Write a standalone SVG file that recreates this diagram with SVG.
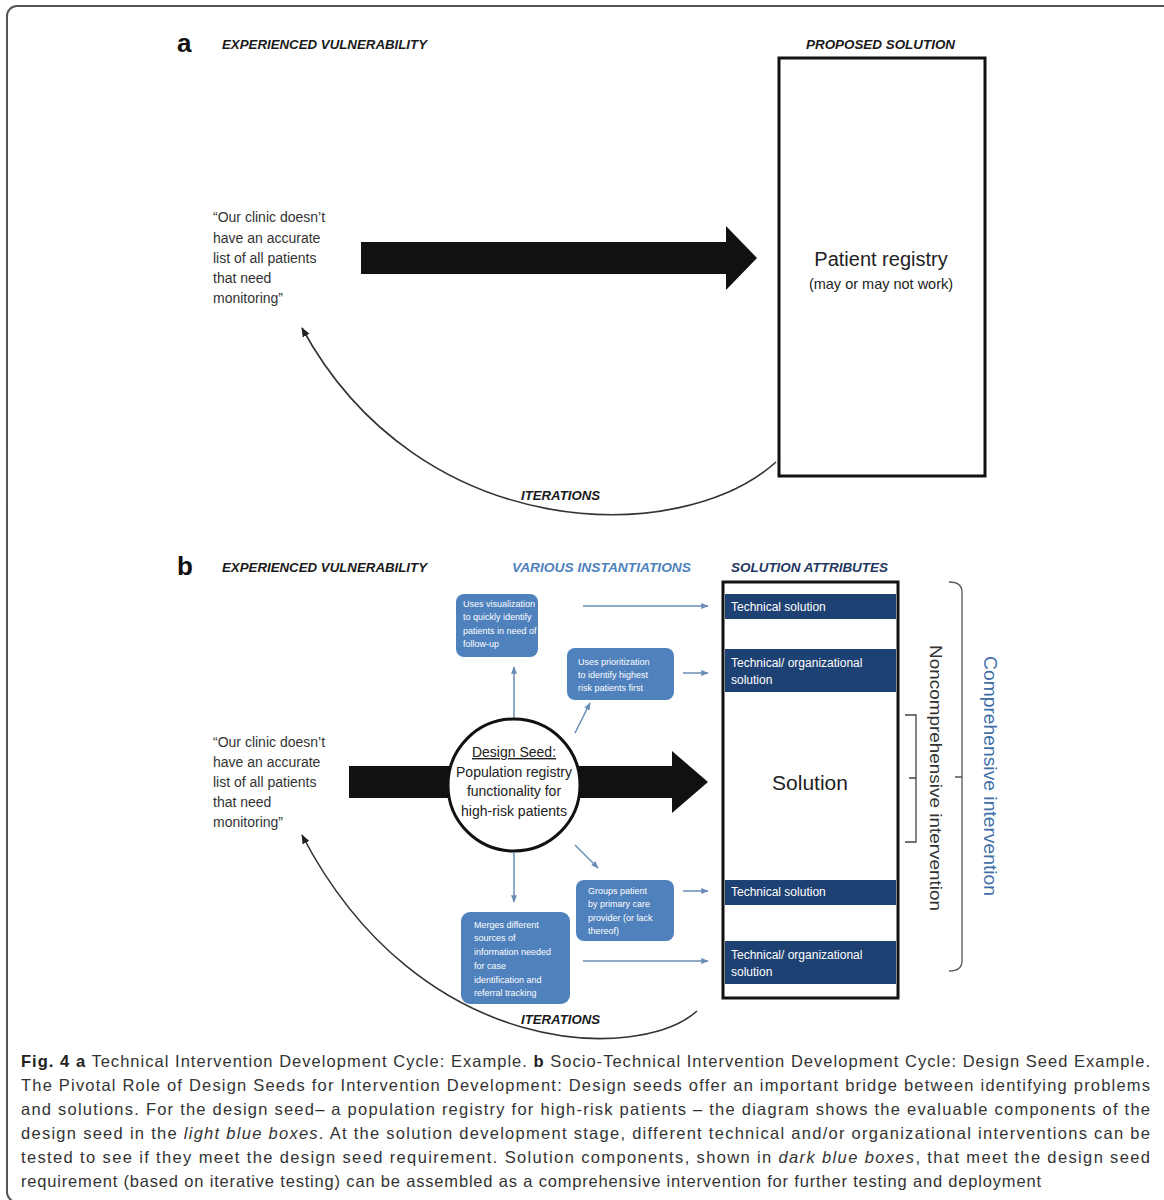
<svg xmlns="http://www.w3.org/2000/svg" width="1164" height="1200" viewBox="0 0 1164 1200">
<defs>
<style>
.hd{font-family:"Liberation Sans",Arial,sans-serif;font-weight:bold;font-style:italic;font-size:13px;fill:#1a1a1a}
.lbl{font-family:"Liberation Sans",Arial,sans-serif;font-size:14px;fill:#333}
.big{font-family:"Liberation Sans",Arial,sans-serif;font-weight:bold;font-size:26px;fill:#111}
.bar{fill:#1e4173}
.bt{font-family:"Liberation Sans",Arial,sans-serif;font-size:12px;fill:#fff}
.lb{fill:#4f81bd}
.st{font-family:"Liberation Sans",Arial,sans-serif;font-size:9px;fill:#fff}
.con{stroke:#6a8db5;stroke-width:1.5;fill:none}
.cap{font-family:"Liberation Sans",Arial,sans-serif;font-size:16.5px;fill:#333}
.cur{stroke:#333;stroke-width:1.6;fill:none}
</style>
<marker id="ah" viewBox="0 0 10 10" refX="9" refY="5" markerWidth="5" markerHeight="5" orient="auto">
<path d="M0,1 L10,5 L0,9 Z" fill="#6a8db5"/>
</marker>
<marker id="ahk" viewBox="0 0 10 10" refX="9" refY="5" markerWidth="6" markerHeight="6" orient="auto">
<path d="M0,1 L10,5 L0,9 Z" fill="#222"/>
</marker>
</defs>
<rect x="7" y="6" width="1175" height="1196" rx="10" fill="#fff" stroke="#555" stroke-width="2"/>

<!-- Panel a -->
<g id="panel-a-headers">
<text class="big" x="177" y="52">a</text>
<text class="hd" x="222" y="49" textLength="205" lengthAdjust="spacingAndGlyphs">EXPERIENCED VULNERABILITY</text>
<text class="hd" x="806" y="49" textLength="149" lengthAdjust="spacingAndGlyphs">PROPOSED SOLUTION</text>
</g>
<g id="quote-a">
<text class="lbl" x="213" y="222">“Our clinic doesn’t</text>
<text class="lbl" x="213" y="243">have an accurate</text>
<text class="lbl" x="213" y="263">list of all patients</text>
<text class="lbl" x="213" y="283">that need</text>
<text class="lbl" x="213" y="303">monitoring”</text>
</g>
<g id="solution-a">
<rect x="779" y="58" width="206" height="418" fill="#fff" stroke="#111" stroke-width="3"/>
<text x="881" y="266" text-anchor="middle" style="font-family:'Liberation Sans',Arial,sans-serif;font-size:20px;fill:#222">Patient registry</text>
<text x="881" y="289" text-anchor="middle" style="font-family:'Liberation Sans',Arial,sans-serif;font-size:14.5px;fill:#222">(may or may not work)</text>
</g>

<!-- Panel b -->
<g id="panel-b-headers">
<text class="big" x="177" y="575">b</text>
<text class="hd" x="222" y="572" textLength="205" lengthAdjust="spacingAndGlyphs">EXPERIENCED VULNERABILITY</text>
<text class="hd" x="512" y="572" textLength="179" lengthAdjust="spacingAndGlyphs" style="fill:#4f81bd">VARIOUS INSTANTIATIONS</text>
<text class="hd" x="731" y="572" textLength="157" lengthAdjust="spacingAndGlyphs" style="fill:#1f3864">SOLUTION ATTRIBUTES</text>
</g>
<g id="quote-b">
<text class="lbl" x="213" y="747">“Our clinic doesn’t</text>
<text class="lbl" x="213" y="767">have an accurate</text>
<text class="lbl" x="213" y="787">list of all patients</text>
<text class="lbl" x="213" y="807">that need</text>
<text class="lbl" x="213" y="827">monitoring”</text>
</g>

<g id="connectors">
<polygon points="361,242 726,242 726,226 757,258 726,290 726,274 361,274" fill="#111"/>
<polygon points="349,766 672,766 672,751 708,782 672,813 672,798 349,798" fill="#111"/>
<path class="cur" d="M776 462 C680 548 420 545 302 328" marker-end="url(#ahk)"/>
<path class="cur" d="M697 1011 C640 1062 420 1062 302 835" marker-end="url(#ahk)"/>
<line class="con" x1="514" y1="718" x2="514" y2="667" marker-end="url(#ah)"/>
<line class="con" x1="575" y1="733" x2="590" y2="703" marker-end="url(#ah)"/>
<line class="con" x1="575" y1="845" x2="598" y2="868" marker-end="url(#ah)"/>
<line class="con" x1="514" y1="853" x2="514" y2="902" marker-end="url(#ah)"/>
<line class="con" x1="583" y1="606" x2="708" y2="606" marker-end="url(#ah)"/>
<line class="con" x1="683" y1="673" x2="708" y2="673" marker-end="url(#ah)"/>
<line class="con" x1="683" y1="891" x2="708" y2="891" marker-end="url(#ah)"/>
<line class="con" x1="583" y1="961" x2="708" y2="961" marker-end="url(#ah)"/>
</g>

<g id="iterations-labels">
<text class="hd" x="521" y="500" textLength="79" lengthAdjust="spacingAndGlyphs">ITERATIONS</text>
<text class="hd" x="521" y="1024" textLength="79" lengthAdjust="spacingAndGlyphs">ITERATIONS</text>
</g>

<g id="design-seed">
<circle cx="514" cy="785" r="66" fill="#fff" stroke="#111" stroke-width="3"/>
<text class="lbl" x="514" y="757" text-anchor="middle" text-decoration="underline" style="fill:#222">Design Seed:</text>
<text class="lbl" x="514" y="777" text-anchor="middle" style="fill:#222">Population registry</text>
<text class="lbl" x="514" y="796" text-anchor="middle" style="fill:#222">functionality for</text>
<text class="lbl" x="514" y="816" text-anchor="middle" style="fill:#222">high-risk patients</text>
</g>

<g id="inst-1">
<rect class="lb" x="456" y="594" width="82" height="63" rx="8"/>
<text class="st" x="463" y="607">Uses visualization</text>
<text class="st" x="463" y="620">to quickly identify</text>
<text class="st" x="463" y="634">patients in need of</text>
<text class="st" x="463" y="647">follow-up</text>
</g>
<g id="inst-2">
<rect class="lb" x="567" y="648" width="107" height="52" rx="8"/>
<text class="st" x="578" y="665">Uses prioritization</text>
<text class="st" x="578" y="678">to identify highest</text>
<text class="st" x="578" y="691">risk patients first</text>
</g>
<g id="inst-3">
<rect class="lb" x="576" y="880" width="98" height="61" rx="8"/>
<text class="st" x="588" y="894">Groups patient</text>
<text class="st" x="588" y="907">by primary care</text>
<text class="st" x="588" y="921">provider (or lack</text>
<text class="st" x="588" y="934">thereof)</text>
</g>
<g id="inst-4">
<rect class="lb" x="461" y="912" width="109" height="92" rx="9"/>
<text class="st" x="474" y="928">Merges different</text>
<text class="st" x="474" y="941">sources of</text>
<text class="st" x="474" y="955">information needed</text>
<text class="st" x="474" y="969">for case</text>
<text class="st" x="474" y="983">identification and</text>
<text class="st" x="474" y="996">referral tracking</text>
</g>

<g id="solution-b">
<rect x="723" y="582" width="175" height="416" fill="#fff" stroke="#111" stroke-width="3"/>
<rect class="bar" x="725" y="594" width="171" height="25"/>
<text class="bt" x="731" y="611">Technical solution</text>
<rect class="bar" x="725" y="649" width="171" height="43"/>
<text class="bt" x="731" y="667">Technical/ organizational</text>
<text class="bt" x="731" y="684">solution</text>
<text x="810" y="790" text-anchor="middle" style="font-family:'Liberation Sans',Arial,sans-serif;font-size:21px;fill:#222">Solution</text>
<rect class="bar" x="725" y="880" width="171" height="25"/>
<text class="bt" x="731" y="896">Technical solution</text>
<rect class="bar" x="725" y="941" width="171" height="43"/>
<text class="bt" x="731" y="959">Technical/ organizational</text>
<text class="bt" x="731" y="976">solution</text>
</g>

<g id="noncomprehensive">
<path d="M905 715 L916 715 L916 842 L905 842 M916 778 L909 778" fill="none" stroke="#444" stroke-width="1.3"/>
<text transform="translate(930 778) rotate(90)" text-anchor="middle" textLength="266" lengthAdjust="spacingAndGlyphs" style="font-family:'Liberation Sans',Arial,sans-serif;font-size:17px;fill:#333">Noncomprehensive intervention</text>
</g>
<g id="comprehensive">
<path d="M949 582 Q962 582 962 592 L962 961 Q962 971 949 971 M962 777 L955 777" fill="none" stroke="#555" stroke-width="1.3"/>
<text transform="translate(984 776) rotate(90)" text-anchor="middle" textLength="240" lengthAdjust="spacingAndGlyphs" style="font-family:'Liberation Sans',Arial,sans-serif;font-size:18px;fill:#3f6fa8">Comprehensive intervention</text>
</g>

<g id="caption">
<text class="cap" x="21" y="1067" textLength="1129" lengthAdjust="spacing"><tspan font-weight="bold" fill="#222">Fig. 4 a</tspan> Technical Intervention Development Cycle: Example. <tspan font-weight="bold" fill="#222">b</tspan> Socio-Technical Intervention Development Cycle: Design Seed Example.</text>
<text class="cap" x="21" y="1091" textLength="1129" lengthAdjust="spacing">The Pivotal Role of Design Seeds for Intervention Development: Design seeds offer an important bridge between identifying problems</text>
<text class="cap" x="21" y="1115" textLength="1129" lengthAdjust="spacing">and solutions. For the design seed– a population registry for high-risk patients – the diagram shows the evaluable components of the</text>
<text class="cap" x="21" y="1139" textLength="1129" lengthAdjust="spacing">design seed in the <tspan font-style="italic">light blue boxes</tspan>. At the solution development stage, different technical and/or organizational interventions can be</text>
<text class="cap" x="21" y="1163" textLength="1129" lengthAdjust="spacing">tested to see if they meet the design seed requirement. Solution components, shown in <tspan font-style="italic">dark blue boxes</tspan>, that meet the design seed</text>
<text class="cap" x="21" y="1187" textLength="1020" lengthAdjust="spacing">requirement (based on iterative testing) can be assembled as a comprehensive intervention for further testing and deployment</text>
</g>
</svg>
